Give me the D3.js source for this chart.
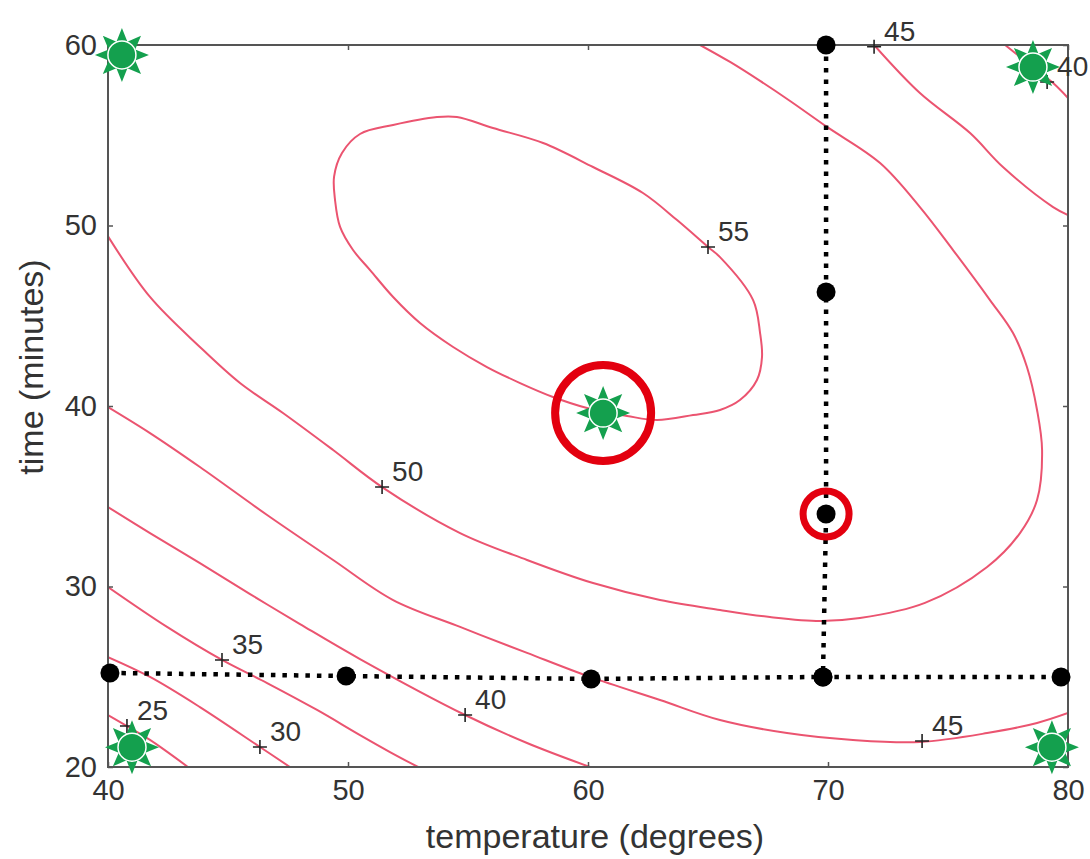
<!DOCTYPE html>
<html>
<head>
<meta charset="utf-8">
<script src="https://cdn.jsdelivr.net/npm/d3@7"></script>
<style>
html, body { margin: 0; padding: 0; background: #fff; }
svg { display: block; }
</style>
</head>
<body>
<svg id="chart" width="1090" height="859"></svg>
<script>
// Axis ticks
const temperatureTicks = [40, 50, 60, 70, 80];
const timeTicks = [20, 30, 40, 50, 60];

// Yield contours, each as [temperature, time] points along the line
const contour25 = [[40, 22.88], [40.79, 22.27], [41.75, 21.5], [43.33, 20]];
const contour30 = [[40, 26.09], [41.75, 24.99], [43.83, 23.32], [46.33, 21.11], [47.58, 20]];
const contour35 = [[40, 29.97], [42.46, 27.76], [44.75, 25.93], [46.63, 24.65], [48.71, 23.16],
                   [50.5, 21.77], [51.75, 20.83], [52.92, 20]];
const contour40 = [[40, 34.4], [41.75, 32.96], [43.83, 31.3], [45.92, 29.58], [48.0, 27.92],
                   [50.5, 25.98], [54.88, 22.88], [57.46, 21.33], [60.08, 20]];
const contour40Upper = [[77.38, 60], [78.0, 59.34], [79.38, 57.89], [80, 57.06]];
const contour45 = [[40, 39.94], [41.75, 38.5], [43.83, 36.62], [46.63, 33.96], [49.38, 31.47],
                   [51.88, 29.25], [54.67, 27.76], [57.46, 26.32], [60.08, 24.99], [63.0, 23.71],
                   [65.5, 22.6], [68.29, 21.88], [71.04, 21.5], [73.83, 21.39], [76.63, 21.88],
                   [78.71, 22.44], [80, 22.99]];
const contour45Upper = [[71.92, 60], [73.83, 57.34], [75.92, 55.12], [77.29, 53.24], [79.38, 51.02], [80, 50.58]];
const contour50 = [[40, 49.4], [41.75, 46.04], [43.83, 43.27], [45.5, 41.27], [47.29, 39.61],
                   [49.38, 37.56], [51.42, 35.51], [54.67, 32.96], [57.46, 31.47], [60.21, 30.19],
                   [63.0, 29.25], [65.5, 28.7], [67.58, 28.31], [69.67, 28.09], [71.33, 28.25],
                   [74.04, 29.09], [76.63, 31.08], [78.0, 32.96], [78.71, 34.79], [78.92, 37.56],
                   [78.71, 39.78], [78.29, 42.16], [77.71, 44.04], [76.75, 45.87], [75.21, 48.64],
                   [73.83, 51.02], [72.17, 53.46], [69.96, 55.46], [68.42, 56.9], [67.17, 58.01],
                   [65.92, 59.06], [64.67, 60]];
// closed loop around the optimum
const contour55 = [[49.42, 52.71], [49.75, 54.02], [50.5, 55.07], [51.88, 55.57],
                   [53.71, 56.01], [54.54, 56.01], [56.04, 55.4], [58.13, 54.57], [60.21, 53.24],
                   [62.29, 51.8], [63.71, 50.3], [65.0, 48.81], [65.5, 48.25], [66.88, 45.87],
                   [67.17, 44.04], [67.25, 42.71], [67.04, 41.44], [66.33, 40.33], [65.5, 39.78],
                   [64.38, 39.5], [62.88, 39.22], [61.63, 39.45], [59.96, 39.89], [58.54, 40.5],
                   [57.17, 41.27], [55.79, 42.16], [54.38, 43.27], [53.0, 44.6], [51.88, 46.04],
                   [50.92, 47.53], [50.21, 48.64], [49.67, 49.92], [49.46, 51.41]];

const openContours = [contour25, contour30, contour35, contour40, contour40Upper,
                      contour45, contour45Upper, contour50];

// Contour labels: [temperature, time, level]
const contourLabels = [[65.0, 48.81, 55], [51.42, 35.51, 50], [71.92, 59.9, 45], [79.13, 57.95, 40],
                       [44.75, 25.93, 35], [46.33, 21.11, 30], [40.79, 22.27, 25],
                       [54.88, 22.88, 40], [73.92, 21.44, 45]];

// One-factor-at-a-time runs: temperature sweep, then time sweep at 70 degrees
const temperatureSweep = [[40.08, 25.21], [49.92, 25.04], [60.13, 24.88], [69.79, 24.99], [79.71, 24.99]];
const timeSweep = [[69.92, 60.0], [69.92, 46.32], [69.92, 34.02], [69.79, 24.99]];

// Factorial corners and the true optimum
const starPoints = [[40.58, 59.45], [78.54, 58.78], [41.0, 21.1], [79.33, 21.1], [60.63, 39.61]];
const optimum = [60.63, 39.61];
const sweepBest = [69.92, 34.02];

const svg = d3.select("#chart");
const plotLeft = 108, plotRight = 1068, plotTop = 45, plotBottom = 767;
const x = d3.scaleLinear().domain([40, 80]).range([plotLeft, plotRight]);
const y = d3.scaleLinear().domain([20, 60]).range([plotBottom, plotTop]);

const FONT = "'Liberation Sans', Arial, Helvetica, sans-serif";
const TEXT = "#333";
const AXIS = "#555";
const CONTOUR = "#eb5470";
const GREEN = "#14a04e";
const RED = "#e3000f";

svg.append("rect").attr("width", 1090).attr("height", 859).attr("fill", "#fff");

svg.append("defs").append("clipPath").attr("id", "plot-clip")
  .append("rect").attr("x", plotLeft).attr("y", plotTop)
  .attr("width", plotRight - plotLeft).attr("height", plotBottom - plotTop);

// contour lines
const line = d3.line().x(d => x(d[0])).y(d => y(d[1])).curve(d3.curveCatmullRom.alpha(0.5));
const lineClosed = d3.line().x(d => x(d[0])).y(d => y(d[1])).curve(d3.curveCatmullRomClosed.alpha(0.5));
const cg = svg.append("g").attr("clip-path", "url(#plot-clip)");
cg.selectAll("path.open").data(openContours).join("path")
  .attr("class", "open").attr("d", line)
  .attr("fill", "none").attr("stroke", CONTOUR).attr("stroke-width", 2);
cg.append("path").datum(contour55).attr("d", lineClosed)
  .attr("fill", "none").attr("stroke", CONTOUR).attr("stroke-width", 2);

// frame
svg.append("rect").attr("x", plotLeft).attr("y", plotTop)
  .attr("width", plotRight - plotLeft).attr("height", plotBottom - plotTop)
  .attr("fill", "none").attr("stroke", AXIS).attr("stroke-width", 2);

// axes with inward ticks on all four sides
function styleAxis(g) {
  g.select(".domain").remove();
  g.selectAll(".tick line").attr("stroke", AXIS).attr("stroke-width", 1.5);
  g.selectAll(".tick text").attr("fill", TEXT).attr("font-family", FONT).attr("font-size", 29);
}
svg.append("g").attr("transform", `translate(0,${plotBottom})`)
  .call(d3.axisBottom(x).tickValues(temperatureTicks).tickSizeInner(-5).tickSizeOuter(0).tickPadding(12))
  .call(styleAxis);
svg.append("g").attr("transform", `translate(${plotLeft},0)`)
  .call(d3.axisLeft(y).tickValues(timeTicks).tickSizeInner(-5).tickSizeOuter(0).tickPadding(11))
  .call(styleAxis);
svg.append("g").attr("transform", `translate(0,${plotTop})`)
  .call(d3.axisTop(x).tickValues(temperatureTicks).tickSizeInner(-5).tickSizeOuter(0).tickFormat(""))
  .call(styleAxis);
svg.append("g").attr("transform", `translate(${plotRight},0)`)
  .call(d3.axisRight(y).tickValues(timeTicks).tickSizeInner(-5).tickSizeOuter(0).tickFormat(""))
  .call(styleAxis);

// axis titles
svg.append("text").attr("x", 595).attr("y", 848).attr("text-anchor", "middle")
  .attr("font-family", FONT).attr("font-size", 34).attr("fill", TEXT)
  .text("temperature (degrees)");
svg.append("text").attr("transform", "translate(43,367) rotate(-90)").attr("text-anchor", "middle")
  .attr("font-family", FONT).attr("font-size", 34).attr("fill", TEXT)
  .text("time (minutes)");

// contour label markers and values
const lg = svg.append("g");
lg.selectAll("path").data(contourLabels).join("path")
  .attr("d", d => `M${x(d[0]) - 7},${y(d[1])}H${x(d[0]) + 7}M${x(d[0])},${y(d[1]) - 7}V${y(d[1]) + 7}`)
  .attr("stroke", "#222").attr("stroke-width", 1.6);
lg.selectAll("text").data(contourLabels).join("text")
  .attr("x", d => x(d[0]) + 10).attr("y", d => y(d[1]) - 6)
  .attr("font-family", FONT).attr("font-size", 28).attr("fill", TEXT)
  .text(d => d[2]);

// dotted sweep paths and their runs
const straight = d3.line().x(d => x(d[0])).y(d => y(d[1]));
[temperatureSweep, timeSweep].forEach(run => {
  svg.append("path").datum(run).attr("d", straight)
    .attr("fill", "none").attr("stroke", "#000").attr("stroke-width", 4.5)
    .attr("stroke-dasharray", "4.5,7");
});
svg.append("g").selectAll("circle").data(temperatureSweep.concat(timeSweep)).join("circle")
  .attr("cx", d => x(d[0])).attr("cy", d => y(d[1])).attr("r", 9.5).attr("fill", "#000");

// highlight rings
svg.append("circle").attr("cx", x(sweepBest[0])).attr("cy", y(sweepBest[1])).attr("r", 23)
  .attr("fill", "none").attr("stroke", RED).attr("stroke-width", 7);
svg.append("circle").attr("cx", x(optimum[0])).attr("cy", y(optimum[1])).attr("r", 48)
  .attr("fill", "none").attr("stroke", RED).attr("stroke-width", 8);

// green sun markers: disc with a thin white rim over eight triangular rays
function rays() {
  const p = d3.path();
  for (let k = 0; k < 8; k++) {
    const a = k * Math.PI / 4;
    const c = Math.cos(a), s = Math.sin(a);
    const rb = 12, rt = 27, hw = 6;
    p.moveTo(rt * c, rt * s);
    p.lineTo(rb * c - hw * s, rb * s + hw * c);
    p.lineTo(rb * c + hw * s, rb * s - hw * c);
    p.closePath();
  }
  return p.toString();
}
const sg = svg.append("g").selectAll("g").data(starPoints).join("g")
  .attr("transform", d => `translate(${x(d[0])},${y(d[1])})`);
sg.append("path").attr("d", rays()).attr("fill", GREEN);
sg.append("circle").attr("r", 14).attr("fill", GREEN).attr("stroke", "#fff").attr("stroke-width", 1.5);
</script>
</body>
</html>
